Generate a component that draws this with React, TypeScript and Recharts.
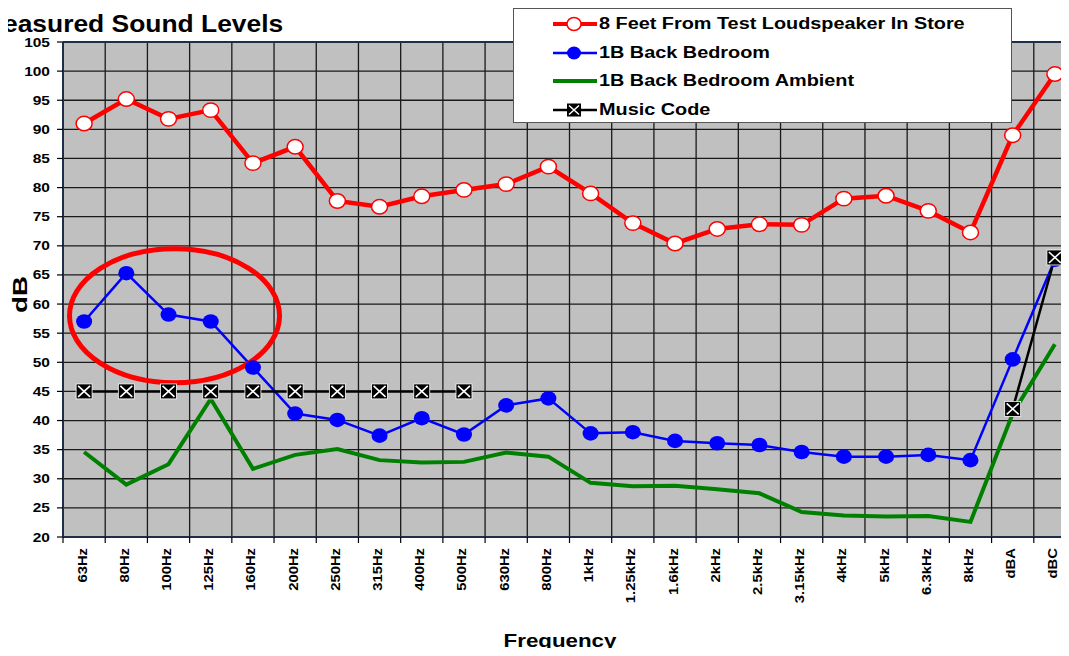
import { LineChart, Line, XAxis, YAxis, CartesianGrid, Legend, ReferenceLine, ReferenceDot, Label } from "recharts";

const FONT = "Arial, 'Liberation Sans', Helvetica, sans-serif";
const AXIS_NAVY = "#1c2e4a";

// frequency bands + weighted totals
const freqs = ["63Hz", "80Hz", "100Hz", "125Hz", "160Hz", "200Hz", "250Hz", "315Hz", "400Hz", "500Hz", "630Hz", "800Hz",
  "1kHz", "1.25kHz", "1.6kHz", "2kHz", "2.5kHz", "3.15kHz", "4kHz", "5kHz", "6.3kHz", "8kHz", "dBA", "dBC"];

const storeLevels = [91.0, 95.2, 91.8, 93.3, 84.2, 87.0, 77.7, 76.7, 78.5, 79.6, 80.6, 83.6,
  79.0, 73.9, 70.4, 72.9, 73.7, 73.6, 78.1, 78.6, 76.0, 72.3, 89.0, 99.5];
const bedroomLevels = [57.0, 65.3, 58.2, 57.0, 49.1, 41.2, 40.1, 37.4, 40.4, 37.6, 42.6, 43.8,
  37.8, 38.0, 36.5, 36.1, 35.8, 34.6, 33.8, 33.8, 34.1, 33.2, 50.5, 67.6];
const ambientLevels = [34.6, 29.0, 32.5, 43.7, 31.7, 34.1, 35.1, 33.2, 32.8, 32.9, 34.5, 33.8,
  29.3, 28.7, 28.8, 28.2, 27.5, 24.3, 23.7, 23.5, 23.6, 22.6, 41.2, 53.1];
const musicCode = [45, 45, 45, 45, 45, 45, 45, 45, 45, 45, null, null,
  null, null, null, null, null, null, null, null, null, null, 42, 68];

const yTicks = [20, 25, 30, 35, 40, 45, 50, 55, 60, 65, 70, 75, 80, 85, 90, 95, 100, 105];

const rows = freqs.map((f, i) => ({
  freq: f,
  store: storeLevels[i],
  bedroom: bedroomLevels[i],
  ambient: ambientLevels[i],
  music: musicCode[i],
}));

const CHART_W = 1076;
const CHART_H = 656;
const Y_AXIS_W = 63;
const BAND = (CHART_W - Y_AXIS_W) / freqs.length;

const SX = 1.24; // the source text is a bit wide

const boundaryX = ({ offset }: any) => {
  const band = offset.width / freqs.length;
  return Array.from({ length: freqs.length + 1 }, (_, i) => offset.left + i * band);
};

const FreqTick = ({ x, y, payload, index }: any) => {
  const left = x - BAND / 2;
  return (
    <g>
      <line x1={left} x2={left} y1={y - 11} y2={y - 5} stroke="#000" strokeWidth={1.2} />
      {index === freqs.length - 1 && (
        <line x1={x + BAND / 2} x2={x + BAND / 2} y1={y - 11} y2={y - 5} stroke="#000" strokeWidth={1.2} />
      )}
      <text
        transform={`translate(${x + 2.5} ${y}) rotate(-90) scale(1.14 1)`}
        textAnchor="end"
        fontSize={13}
        fontWeight="bold"
        fontFamily={FONT}
        fill="#000"
      >
        {payload.value}
      </text>
    </g>
  );
};

const LevelTick = ({ x, y, payload }: any) => (
  <text
    transform={`translate(${x} ${y}) scale(${SX} 1)`}
    dy={4.5}
    textAnchor="end"
    fontSize={12.5}
    fontWeight="bold"
    fontFamily={FONT}
    fill="#000"
  >
    {payload.value}
  </text>
);

const OpenDot = ({ cx, cy }: any) =>
  cx == null || cy == null ? null : (
    <ellipse cx={cx} cy={cy} rx={8} ry={7.2} fill="#fff" stroke="#ff0000" strokeWidth={1.5} />
  );

const FilledDot = ({ cx, cy }: any) =>
  cx == null || cy == null ? null : <ellipse cx={cx} cy={cy} rx={8} ry={7.3} fill="#0000ff" />;

const XBox = ({ cx, cy }: any) =>
  cx == null || cy == null ? null : (
    <g>
      <rect x={cx - 8} y={cy - 7.5} width={16} height={15} fill="#000" stroke="#fff" strokeWidth={0.8} />
      <path d={`M${cx - 6},${cy - 5.5} L${cx + 6},${cy + 5.5} M${cx + 6},${cy - 5.5} L${cx - 6},${cy + 5.5}`} stroke="#fff" strokeWidth={1.6} />
    </g>
  );

const legendItems = [
  { label: "8 Feet From Test Loudspeaker In Store", kind: "open" },
  { label: "1B Back Bedroom", kind: "filled" },
  { label: "1B Back Bedroom Ambient", kind: "plain" },
  { label: "Music Code", kind: "xbox" },
];

const LegendIcon = ({ kind }: { kind: string }) => (
  <svg width={44} height={18} style={{ display: "block" }}>
    {kind === "open" && (
      <>
        <line x1={0} x2={44} y1={9} y2={9} stroke="#ff0000" strokeWidth={4} />
        <ellipse cx={21} cy={9} rx={7} ry={6.5} fill="#fff" stroke="#ff0000" strokeWidth={1.5} />
      </>
    )}
    {kind === "filled" && (
      <>
        <line x1={0} x2={44} y1={9} y2={9} stroke="#0000ff" strokeWidth={2.5} />
        <ellipse cx={21} cy={9} rx={7} ry={6.5} fill="#0000ff" />
      </>
    )}
    {kind === "plain" && <line x1={0} x2={44} y1={9} y2={9} stroke="#008000" strokeWidth={4} />}
    {kind === "xbox" && (
      <>
        <line x1={0} x2={44} y1={9} y2={9} stroke="#000" strokeWidth={2.5} />
        <rect x={14} y={2.5} width={14} height={13} fill="#000" />
        <path d="M16,4.5 L26,13.5 M26,4.5 L16,13.5" stroke="#fff" strokeWidth={1.5} />
      </>
    )}
  </svg>
);

const BoxLegend = () => (
  <div
    style={{
      width: 497,
      height: 112,
      background: "#fff",
      border: "1px solid #555",
      boxSizing: "content-box",
      paddingTop: 1,
      fontFamily: FONT,
    }}
  >
    {legendItems.map((it) => (
      <div key={it.label} style={{ display: "flex", alignItems: "center", height: 28.5, paddingLeft: 39 }}>
        <LegendIcon kind={it.kind} />
        <span
          style={{
            display: "inline-block",
            marginLeft: 2,
            fontSize: 16,
            fontWeight: "bold",
            whiteSpace: "nowrap",
            transform: `scaleX(${SX})`,
            transformOrigin: "left center",
          }}
        >
          {it.label}
        </span>
      </div>
    ))}
  </div>
);

export default function App() {
  return (
    <div
      style={{
        position: "relative",
        width: 1069,
        height: 656,
        margin: -8,
        overflow: "hidden",
        background: "#fff",
        fontFamily: FONT,
      }}
    >
      <div
        style={{
          position: "absolute",
          left: -19,
          top: 12,
          fontSize: 24,
          lineHeight: "24px",
          fontWeight: "bold",
          whiteSpace: "nowrap",
          transform: "scaleX(1.1)",
          transformOrigin: "left center",
        }}
      >
        Measured Sound Levels
      </div>
      <div
        style={{
          position: "absolute",
          left: 559.5,
          top: 632,
          fontSize: 18,
          lineHeight: "18px",
          fontWeight: "bold",
          whiteSpace: "nowrap",
          transform: `translateX(-50%) scaleX(${SX})`,
          transformOrigin: "center center",
          zIndex: 2,
        }}
      >
        Frequency
      </div>
      <LineChart width={CHART_W} height={CHART_H} data={rows} margin={{ top: 42, right: 0, bottom: 0, left: 0 }}>
        <CartesianGrid
          fill="#c0c0c0"
          fillOpacity={1}
          stroke="#1a1a1a"
          strokeWidth={1.3}
          verticalCoordinatesGenerator={boundaryX}
        />
        <XAxis
          dataKey="freq"
          type="category"
          interval={0}
          padding={{ left: BAND / 2, right: BAND / 2 }}
          height={CHART_H - 537}
          tickSize={6}
          tickMargin={5}
          tickLine={false}
          axisLine={{ stroke: AXIS_NAVY, strokeWidth: 2 }}
          tick={<FreqTick />}
        />
        <YAxis
          width={Y_AXIS_W}
          domain={[20, 105]}
          ticks={yTicks}
          interval={0}
          allowDataOverflow
          tickSize={6}
          tickMargin={7}
          tickLine={{ stroke: "#000", strokeWidth: 1.2 }}
          axisLine={{ stroke: AXIS_NAVY, strokeWidth: 2 }}
          tick={<LevelTick />}
        >
          <Label
            content={({ viewBox }: any) => (
              <text
                transform={`translate(${viewBox.x + 27} ${viewBox.y + viewBox.height / 2 + 5}) rotate(-90) scale(1.2 0.9)`}
                textAnchor="middle"
                fontSize={23}
                fontWeight="bold"
                fontFamily={FONT}
                fill="#000"
              >
                dB
              </text>
            )}
          />
        </YAxis>
        <ReferenceLine y={105} stroke={AXIS_NAVY} strokeWidth={2} />
        <ReferenceDot
          x="100Hz"
          y={58}
          shape={({ cx, cy }: any) => (
            <ellipse cx={cx + 6} cy={cy} rx={105} ry={67} fill="none" stroke="#ff0000" strokeWidth={5} />
          )}
        />
        <Line
          dataKey="store"
          name="8 Feet From Test Loudspeaker In Store"
          stroke="#ff0000"
          strokeWidth={4.5}
          dot={<OpenDot />}
          activeDot={false}
          isAnimationActive={false}
        />
        <Line
          dataKey="bedroom"
          name="1B Back Bedroom"
          stroke="#0000ff"
          strokeWidth={2.5}
          dot={<FilledDot />}
          activeDot={false}
          isAnimationActive={false}
        />
        <Line
          dataKey="ambient"
          name="1B Back Bedroom Ambient"
          stroke="#008000"
          strokeWidth={4}
          dot={false}
          activeDot={false}
          isAnimationActive={false}
        />
        <Line
          dataKey="music"
          name="Music Code"
          stroke="#000"
          strokeWidth={2.5}
          dot={<XBox />}
          activeDot={false}
          connectNulls={false}
          isAnimationActive={false}
        />
        <Legend
          layout="vertical"
          verticalAlign="middle"
          align="center"
          content={<BoxLegend />}
          wrapperStyle={{ left: 513, top: 8, width: 499, height: 114 }}
        />
      </LineChart>
    </div>
  );
}
